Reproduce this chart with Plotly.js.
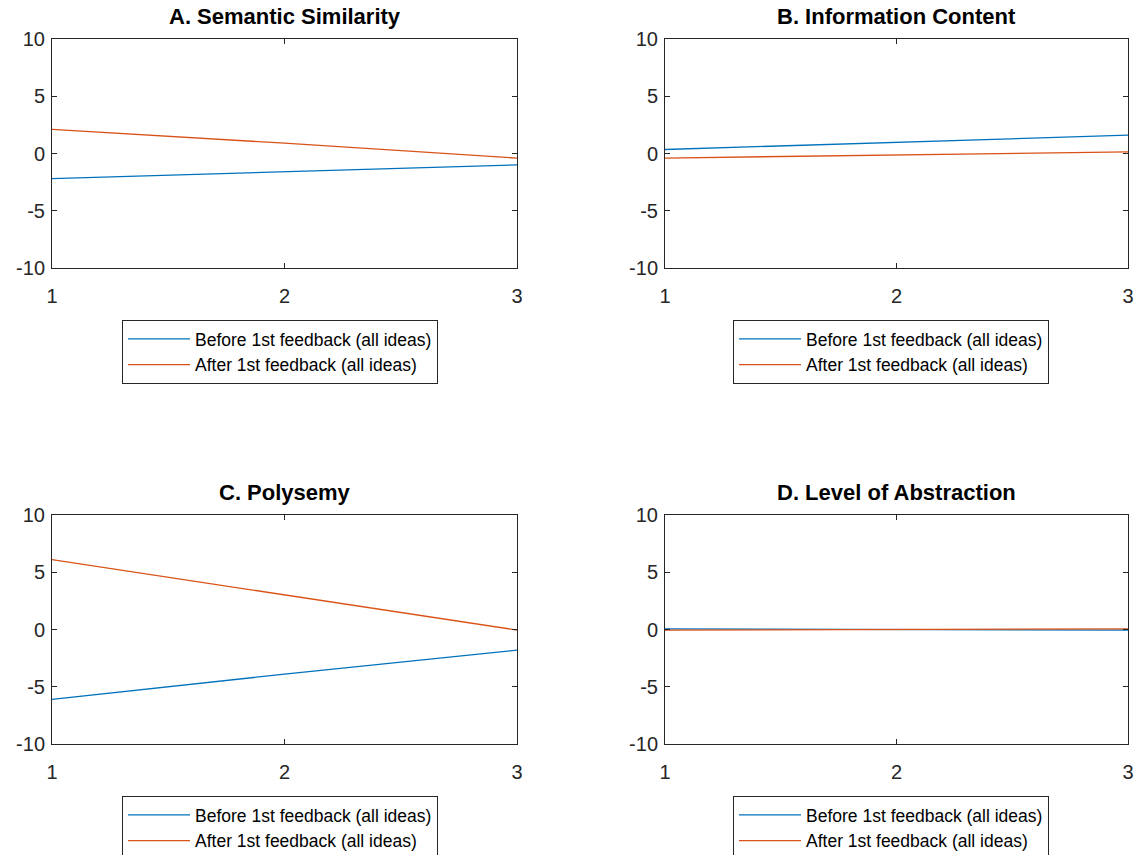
<!DOCTYPE html>
<html>
<head>
<meta charset="utf-8">
<script src="https://cdn.plot.ly/plotly-3.0.1.min.js"></script>
<style>html,body{margin:0;padding:0;background:#fff;}#chart{width:1140px;height:855px;}</style>
</head>
<body>
<div id="chart"></div>
<script>
// ---- data ----
const xSteps = [1, 2, 3];
const panelTitles = ["A. Semantic Similarity", "B. Information Content", "C. Polysemy", "D. Level of Abstraction"];
const seriesNames = ["Before 1st feedback (all ideas)", "After 1st feedback (all ideas)"];
const beforeA = [-2.2, -1.6, -1.0];
const afterA  = [2.1, 0.9, -0.4];
const beforeB = [0.35, 1.0, 1.6];
const afterB  = [-0.4, -0.1, 0.15];
const beforeC = [-6.1, -3.9, -1.8];
const afterC  = [6.1, 3.05, -0.05];
const beforeD = [0.05, 0.0, -0.05];
const afterD  = [-0.05, 0.0, 0.05];
const xTicks = [1, 2, 3];
const yTicks = [-10, -5, 0, 5, 10];
const yTickLabels = ["-10", "-5", "0", "5", "10"];

const colors = ["#0072BD", "#D95319"];
const W = 1140, H = 855;
const FONT = "Liberation Sans, Arial, sans-serif";
const panels = [
  {before: beforeA, after: afterA, x0: 52, x1: 517, y0: 39, y1: 268, lx: 122, ly: 320},
  {before: beforeB, after: afterB, x0: 665, x1: 1128, y0: 39, y1: 268, lx: 733, ly: 320},
  {before: beforeC, after: afterC, x0: 52, x1: 517, y0: 515, y1: 744, lx: 122, ly: 796},
  {before: beforeD, after: afterD, x0: 665, x1: 1128, y0: 515, y1: 744, lx: 733, ly: 796}
];

const traces = [];
const layout = {
  width: W, height: H,
  margin: {l: 0, r: 0, t: 0, b: 0, autoexpand: false},
  paper_bgcolor: "#fff", plot_bgcolor: "#fff",
  font: {family: FONT, color: "#262626"},
  annotations: []
};

panels.forEach((p, i) => {
  const n = i + 1;
  const xa = n === 1 ? "x" : "x" + n;
  const ya = n === 1 ? "y" : "y" + n;
  const lg = n === 1 ? "legend" : "legend" + n;
  [p.before, p.after].forEach((vals, k) => {
    traces.push({
      type: "scatter", mode: "lines", x: xSteps, y: vals,
      xaxis: xa, yaxis: ya, legend: lg, name: seriesNames[k],
      line: {color: colors[k], width: 1.3}
    });
  });
  const axCommon = {
    showline: true, linecolor: "#262626", linewidth: 1, mirror: "ticks",
    ticks: "inside", ticklen: 5, tickwidth: 1, tickcolor: "#262626",
    showgrid: false, zeroline: false, fixedrange: true,
    tickfont: {size: 20, color: "#262626", family: FONT}
  };
  layout["xaxis" + (n === 1 ? "" : n)] = Object.assign({}, axCommon, {
    domain: [p.x0 / W, p.x1 / W], range: [1, 3], tickvals: xTicks,
    anchor: ya, ticklabelstandoff: 10
  });
  layout["yaxis" + (n === 1 ? "" : n)] = Object.assign({}, axCommon, {
    domain: [1 - p.y1 / H, 1 - p.y0 / H], range: [-10, 10],
    tickmode: "array", tickvals: yTicks, ticktext: yTickLabels,
    anchor: xa, ticklabelstandoff: 2
  });
  layout[lg] = {
    x: p.lx / W, y: 1 - p.ly / H, xanchor: "left", yanchor: "top",
    xref: "paper", yref: "paper",
    bordercolor: "#262626", borderwidth: 1, bgcolor: "#fff",
    font: {size: 17.5, color: "#000", family: FONT},
    itemwidth: 62, tracegroupgap: 0
  };
  layout.annotations.push({
    text: "<b>" + panelTitles[i] + "</b>", xref: "paper", yref: "paper",
    x: (p.x0 + p.x1) / 2 / W, y: 1 - (p.y0 - 8) / H, xanchor: "center", yanchor: "bottom",
    showarrow: false, font: {size: 22, color: "#000", family: FONT}
  });
});

Plotly.newPlot("chart", traces, layout, {staticPlot: true, displayModeBar: false});
</script>
</body>
</html>
